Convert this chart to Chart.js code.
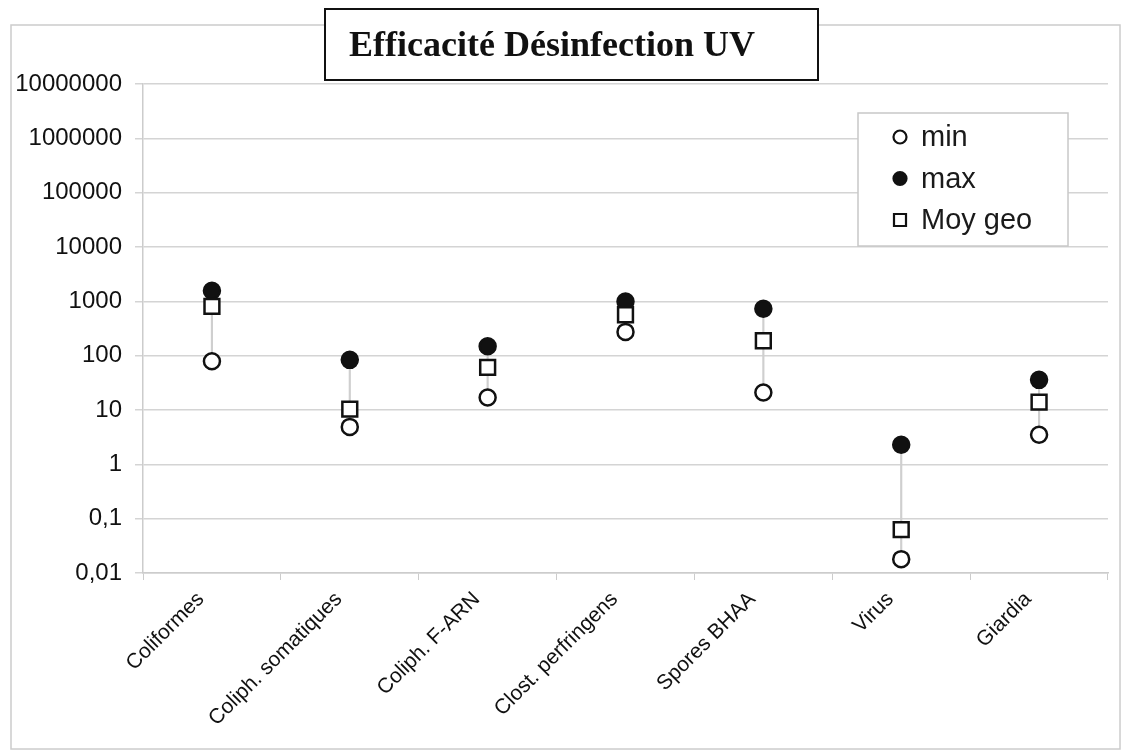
<!DOCTYPE html>
<html>
<head>
<meta charset="utf-8">
<title>Efficacité Désinfection UV</title>
<script src="https://cdn.jsdelivr.net/npm/chart.js@4/dist/chart.umd.min.js"></script>
<style>
	html, body { margin: 0; padding: 0; background: #fff; }
</style>
</head>
<body>
<canvas id="myChart" width="1125" height="755"></canvas>
<script>
let categories = ["Coliformes", "Coliph. somatiques", "Coliph. F-ARN", "Clost. perfringens", "Spores BHAA", "Virus", "Giardia"];

let minValues = [79, 4.9, 17, 275, 21, 0.018, 3.5];
let maxValues = [1570, 84, 150, 1000, 735, 2.3, 36];
let moyGeoValues = [810, 10.4, 61, 570, 189, 0.063, 14];

let yTicks = [0.01, 0.1, 1, 10, 100, 1000, 10000, 100000, 1000000, 10000000];
let yTickLabels = ["0,01", "0,1", "1", "10", "100", "1000", "10000", "100000", "1000000", "10000000"];

const sans = "Arial, 'Liberation Sans', sans-serif";

// frame, boxed title and the legend box are drawn by hand
const frame = {
	id: "frame",
	afterLayout(chart) {
		// title sits a bit left of the middle
		chart.titleBlock.left = 0;
		chart.titleBlock.right = 1104;
	},
	beforeDraw(chart) {
		const ctx = chart.ctx;
		ctx.save();
		ctx.fillStyle = "#fff";
		ctx.fillRect(0, 0, chart.width, chart.height);
		ctx.strokeStyle = "#cccccc";
		ctx.lineWidth = 1.5;
		ctx.strokeRect(11, 25, 1109, 724);
		ctx.fillRect(325, 9, 493, 71);
		ctx.strokeStyle = "#111";
		ctx.lineWidth = 2;
		ctx.strokeRect(325, 9, 493, 71);
		ctx.restore();
	},
	afterDraw(chart) {
		const ctx = chart.ctx;
		ctx.save();
		ctx.fillStyle = "#fff";
		ctx.fillRect(858, 113, 210, 133);
		ctx.strokeStyle = "#c8c8c8";
		ctx.lineWidth = 1.5;
		ctx.strokeRect(858, 113, 210, 133);

		let items = chart.data.datasets.filter((d) => d.type === "line");
		items.forEach((d, i) => {
			let y = 137 + i * 41.5;
			ctx.fillStyle = d.pointBackgroundColor;
			ctx.strokeStyle = d.pointBorderColor;
			ctx.lineWidth = 2.2;
			ctx.beginPath();
			if (d.pointStyle === "rect") {
				ctx.rect(894, y - 6, 12, 12);
			} else {
				ctx.arc(900, y, 6.5, 0, Math.PI * 2);
			}
			ctx.fill();
			ctx.stroke();
			ctx.fillStyle = "#1a1a1a";
			ctx.font = "29px " + sans;
			ctx.textBaseline = "middle";
			ctx.fillText(d.label, 921, y + 1);
		});
		ctx.restore();
	},
};

var ctx = document.getElementById("myChart").getContext("2d");
var chart = new Chart(ctx, {
	type: "bar",
	data: {
		labels: categories,
		datasets: [
			{
				type: "line",
				label: "min",
				data: minValues,
				showLine: false,
				pointStyle: "circle",
				pointRadius: 8,
				pointHoverRadius: 8,
				pointBorderWidth: 2.5,
				pointBorderColor: "#111",
				pointBackgroundColor: "#fff",
				order: 1,
			},
			{
				type: "line",
				label: "max",
				data: maxValues,
				showLine: false,
				pointStyle: "circle",
				pointRadius: 8,
				pointHoverRadius: 8,
				pointBorderWidth: 2.5,
				pointBorderColor: "#111",
				pointBackgroundColor: "#111",
				order: 2,
			},
			{
				type: "line",
				label: "Moy geo",
				data: moyGeoValues,
				showLine: false,
				pointStyle: "rect",
				pointRadius: 10.5,
				pointHoverRadius: 10.5,
				pointBorderWidth: 2.5,
				pointBorderColor: "#111",
				pointBackgroundColor: "#fff",
				order: 0,
			},
			{
				// thin high-low line between min and max
				type: "bar",
				label: "range",
				data: categories.map((c, i) => [minValues[i], maxValues[i]]),
				backgroundColor: "#cfcfcf",
				barThickness: 1.5,
				order: 3,
			},
		],
	},
	options: {
		responsive: false,
		animation: false,
		devicePixelRatio: 1,
		layout: { padding: { top: 0, right: 17, bottom: 0, left: 0 } },
		plugins: {
			legend: { display: false },
			tooltip: { enabled: false },
			title: {
				display: true,
				text: "Efficacité Désinfection UV",
				color: "#111",
				font: { family: "'Times New Roman', 'Liberation Serif', serif", size: 36, weight: "bold", lineHeight: 1.2 },
				padding: { top: 25, bottom: 16 },
			},
		},
		scales: {
			x: {
				grid: { drawOnChartArea: false, drawTicks: true, tickLength: 7, color: "#cccccc", offset: true },
				border: { color: "#cccccc", width: 1.5 },
				ticks: { maxRotation: 45, minRotation: 45, autoSkip: false, color: "#111", font: { family: sans, size: 21 }, padding: 7, labelOffset: -11 },
				afterFit(scale) {
					scale.height = 182;
				},
			},
			y: {
				type: "logarithmic",
				min: 0.01,
				max: 10000000,
				afterBuildTicks(scale) {
					scale.ticks = yTicks.map((v) => ({ value: v }));
				},
				grid: { color: "#d4d4d4", lineWidth: 1.5, tickLength: 8 },
				border: { color: "#cccccc", width: 1.5 },
				ticks: {
					autoSkip: false,
					color: "#111",
					font: { family: sans, size: 24 },
					padding: 13,
					callback: (v) => yTickLabels[yTicks.indexOf(v)],
				},
				afterFit(scale) {
					scale.width = 143;
				},
			},
		},
	},
	plugins: [frame],
});
</script>
</body>
</html>
